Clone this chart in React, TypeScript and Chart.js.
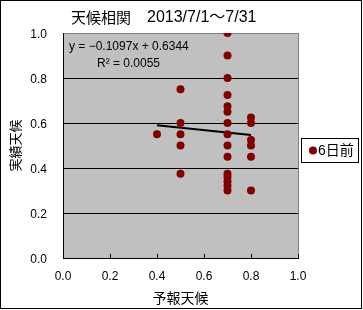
import React, { useEffect, useRef } from "react";
import { Chart, registerables } from "chart.js";

Chart.register(...registerables);

const chartTitle = "天候相関";
const chartSubtitle = "2013/7/1～7/31";
const xAxisTitle = "予報天候";
const yAxisTitle = "実績天候";
const seriesName = "6日前";

const forecast = [
  0.4,
  0.5, 0.5, 0.5, 0.5, 0.5,
  0.7, 0.7, 0.7, 0.7, 0.7, 0.7, 0.7, 0.7, 0.7, 0.7, 0.7, 0.7, 0.7, 0.7, 0.7,
  0.8, 0.8, 0.8, 0.8, 0.8, 0.8,
];
const actual = [
  0.55,
  0.75, 0.6, 0.55, 0.5, 0.375,
  1.0, 0.9, 0.8, 0.725, 0.675, 0.65, 0.6, 0.55, 0.5, 0.45, 0.375, 0.36, 0.34, 0.32, 0.3,
  0.625, 0.6, 0.525, 0.5, 0.45, 0.3,
];
const trendSlope = -0.1097;
const trendIntercept = 0.6344;
const rSquared = "0.0055";
const tickValues = [0, 0.2, 0.4, 0.6, 0.8, 1.0];

const LATIN = '"Liberation Sans", "Noto Sans CJK JP", sans-serif';
const CJK = '"Noto Sans CJK JP", sans-serif';

export default function App() {
  const ref = useRef<HTMLCanvasElement>(null);
  useEffect(() => {
    document.body.style.margin = "0";
    const xMin = Math.min(...forecast);
    const xMax = Math.max(...forecast);
    const trend = [
      { x: xMin, y: trendIntercept + trendSlope * xMin },
      { x: xMax, y: trendIntercept + trendSlope * xMax },
    ];
    const decor = {
      id: "decor",
      beforeDraw(chart: any) {
        const { ctx, chartArea: a } = chart;
        ctx.save();
        ctx.fillStyle = "#ffffff";
        ctx.fillRect(0, 0, chart.width, chart.height);
        ctx.fillStyle = "#c0c0c0";
        ctx.fillRect(a.left, a.top, a.right - a.left, a.bottom - a.top);
        ctx.restore();
      },
      afterDraw(chart: any) {
        const { ctx, chartArea: a } = chart;
        const xs = chart.scales.x;
        ctx.save();
        ctx.strokeStyle = "#808080";
        ctx.lineWidth = 1;
        ctx.beginPath();
        ctx.moveTo(Math.round(a.right) + 0.5, a.top);
        ctx.lineTo(Math.round(a.right) + 0.5, a.bottom);
        ctx.stroke();
        ctx.strokeStyle = "#000";
        tickValues.forEach((v) => {
          const px = Math.round(xs.getPixelForValue(v)) + 0.5;
          ctx.beginPath();
          ctx.moveTo(px, a.bottom);
          ctx.lineTo(px, a.bottom - 4);
          ctx.stroke();
        });
        ctx.strokeRect(0.5, 0.5, 361, 308);
        ctx.fillStyle = "#000";
        ctx.textBaseline = "middle";
        ctx.textAlign = "left";
        ctx.font = `15px ${CJK}`;
        ctx.fillText(chartTitle, 71, 17);
        ctx.font = `16px ${LATIN}`;
        ctx.fillText(chartSubtitle, 147, 18);
        ctx.font = `12px ${LATIN}`;
        ctx.fillText(
          `y = −${Math.abs(trendSlope).toFixed(4)}x + ${trendIntercept.toFixed(4)}`,
          69,
          47
        );
        ctx.fillText(`R² = ${rSquared}`, 97, 64);
        ctx.fillStyle = "#fff";
        ctx.fillRect(301, 138, 57, 24);
        ctx.strokeRect(301.5, 138.5, 57, 24);
        ctx.fillStyle = "#800000";
        ctx.beginPath();
        ctx.arc(313, 150.5, 4, 0, Math.PI * 2);
        ctx.fill();
        ctx.fillStyle = "#000";
        ctx.font = `14px ${LATIN}`;
        ctx.fillText(seriesName, 318, 151);
        ctx.restore();
      },
    };
    const chart = new Chart(ref.current as HTMLCanvasElement, {
      type: "scatter",
      data: {
        datasets: [
          {
            label: seriesName,
            data: forecast.map((x, i) => ({ x, y: actual[i] })),
            pointRadius: 4,
            pointBackgroundColor: "#800000",
            pointBorderColor: "#800000",
            pointBorderWidth: 0,
            showLine: false,
          },
          {
            label: "trend",
            type: "line",
            data: trend,
            borderColor: "#000",
            borderWidth: 2,
            pointRadius: 0,
            fill: false,
          } as any,
        ],
      },
      options: {
        responsive: false,
        animation: false,
        layout: { padding: { left: 0, top: 33, right: 65, bottom: 0 } },
        plugins: {
          legend: { display: false },
          tooltip: { enabled: false },
          title: { display: false },
        },
        scales: {
          x: {
            type: "linear",
            min: 0,
            max: 1,
            afterFit: (s: any) => {
              s.height = 52;
            },
            afterBuildTicks: (s: any) => {
              s.ticks = tickValues.map((v) => ({ value: v }));
            },
            ticks: {
              color: "#000",
              padding: 11,
              font: { family: LATIN, size: 12 },
              callback: (v: any) => Number(v).toFixed(1),
              maxRotation: 0,
            },
            grid: { color: "rgba(0,0,0,0)", drawTicks: false },
            border: { display: true, color: "#000", width: 1 },
            title: {
              display: true,
              text: xAxisTitle,
              color: "#000",
              font: { family: CJK, size: 14 },
              padding: { top: 0, bottom: 4 },
            },
          },
          y: {
            type: "linear",
            min: 0,
            max: 1,
            afterFit: (s: any) => {
              s.width = 63;
            },
            afterBuildTicks: (s: any) => {
              s.ticks = tickValues.map((v) => ({ value: v }));
            },
            ticks: {
              color: "#000",
              padding: 16,
              labelOffset: 2,
              font: { family: LATIN, size: 12 },
              callback: (v: any) => Number(v).toFixed(1),
            },
            grid: {
              drawTicks: false,
              color: (c: any) => (c.tick && c.tick.value === 1 ? "#808080" : "#000"),
              lineWidth: 1,
            },
            border: { display: true, color: "#000", width: 1 },
            title: {
              display: true,
              text: yAxisTitle,
              color: "#000",
              font: { family: CJK, size: 13 },
              padding: { top: 7, bottom: 0 },
            },
          },
        },
      },
      plugins: [decor],
    });
    return () => chart.destroy();
  }, []);
  return <canvas ref={ref} width={363} height={310} style={{ display: "block" }} />;
}
